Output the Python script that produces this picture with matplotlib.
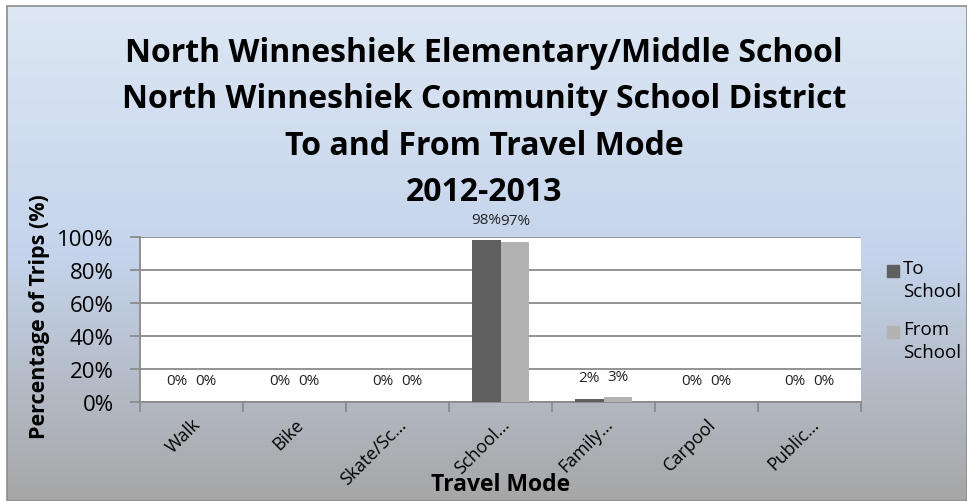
import matplotlib.pyplot as plt
import numpy as np
from matplotlib.colors import LinearSegmentedColormap
from matplotlib.patches import Rectangle
from matplotlib.transforms import ScaledTranslation

categories = ["Walk", "Bike", "Skate/Sc…", "School…", "Family…", "Carpool", "Public…"]
to_school = [0, 0, 0, 98, 2, 0, 0]
from_school = [0, 0, 0, 97, 3, 0, 0]
series_names = ["To\nSchool", "From\nSchool"]
series_colors = ["#5f5f5f", "#b2b2b2"]
title_lines = [
    "North Winneshiek Elementary/Middle School",
    "North Winneshiek Community School District",
    "To and From Travel Mode",
    "2012-2013",
]

plt.rcParams["font.family"] = ["Open Sans", "DejaVu Sans"]

W, H = 967, 502
fig = plt.figure(figsize=(W / 100, H / 100), dpi=100, facecolor="white")

# gradient background inside the chart border
bg = fig.add_axes([7 / W, 0, 1 - 7 / W, 1 - 7 / H], zorder=-10)
grad = LinearSegmentedColormap.from_list(
    "bg", [(0.0, "#dde7f3"), (0.5, "#c5d4ec"), (1.0, "#a6a6a6")])
bg.imshow(np.linspace(0, 1, 256)[:, None], aspect="auto", cmap=grad,
          extent=[0, 1, 0, 1])
bg.set_xlim(0, 1)
bg.set_ylim(0, 1)
bg.axis("off")
fig.patches.append(Rectangle((7 / W, 0), 1 - 7 / W, 1 - 7 / H,
                             transform=fig.transFigure, fill=False,
                             edgecolor="#8c8c8c", linewidth=1.2))

ax = fig.add_axes([140 / W, 1 - 403 / H, 721 / W, 165 / H])
ax.set_facecolor("white")

x = np.arange(len(categories))
w = 0.28
b1 = ax.bar(x - w / 2, to_school, w, color=series_colors[0], zorder=3)
b2 = ax.bar(x + w / 2, from_school, w, color=series_colors[1], zorder=3)

for bars, vals in ((b1, to_school), (b2, from_school)):
    for r, v in zip(bars, vals):
        ax.annotate(f"{v}%", (r.get_x() + r.get_width() / 2, v),
                    xytext=(0, 21), textcoords="offset pixels",
                    ha="center", va="center", fontsize=11, color="#222222")

ax.set_xlim(-0.5, len(categories) - 0.5)
ax.set_ylim(0, 100)
ax.set_yticks(range(0, 101, 20))
ax.set_yticklabels([f"{t}%" for t in range(0, 101, 20)], fontsize=16)
ax.yaxis.grid(True, color="#8a8a8a", linewidth=1.3, zorder=0)
ax.set_axisbelow(True)

ax.set_xticks(np.arange(len(categories) + 1) - 0.5, minor=False)
ax.set_xticklabels([])
ax.set_xticks(x, minor=True)
ax.set_xticklabels(categories, minor=True, rotation=45, ha="right", va="top",
                   rotation_mode="anchor", fontsize=13)
shift = ScaledTranslation(-10 / 100, 0, fig.dpi_scale_trans)
for lab in ax.get_xticklabels(minor=True):
    lab.set_transform(lab.get_transform() + shift)
ax.tick_params(axis="x", which="minor", length=0, pad=9)
ax.tick_params(axis="x", which="major", length=7, width=1.3, color="#8a8a8a")
ax.tick_params(axis="y", length=7, width=1.3, color="#8a8a8a", pad=12)

for s in ("top", "right"):
    ax.spines[s].set_visible(False)
for s in ("left", "bottom"):
    ax.spines[s].set_color("#8a8a8a")
    ax.spines[s].set_linewidth(1.3)

fig.text(40 / W, 1 - 317 / H, "Percentage of Trips (%)", rotation=90,
         ha="center", va="center", fontsize=15.5, fontweight="bold")
fig.text(501 / W, 1 - 491 / H, "Travel Mode", ha="center", va="baseline",
         fontsize=16.5, fontweight="bold")

for i, line in enumerate(title_lines):
    fig.text(484 / W, 1 - (62 + i * 46.3) / H, line, ha="center",
             va="baseline", fontsize=23, fontweight="bold")

# legend: swatch aligned with the first text line
for i, (name, col) in enumerate(zip(series_names, series_colors)):
    y0 = 272 + i * 61
    fig.patches.append(Rectangle((887 / W, 1 - (y0 + 6) / H), 12 / W, 12 / H,
                                 transform=fig.transFigure, color=col))
    fig.text(903 / W, 1 - (y0 - 12) / H, name, ha="left", va="top",
             fontsize=13.5, linespacing=1.35)

fig.savefig("out.png", dpi=100)
